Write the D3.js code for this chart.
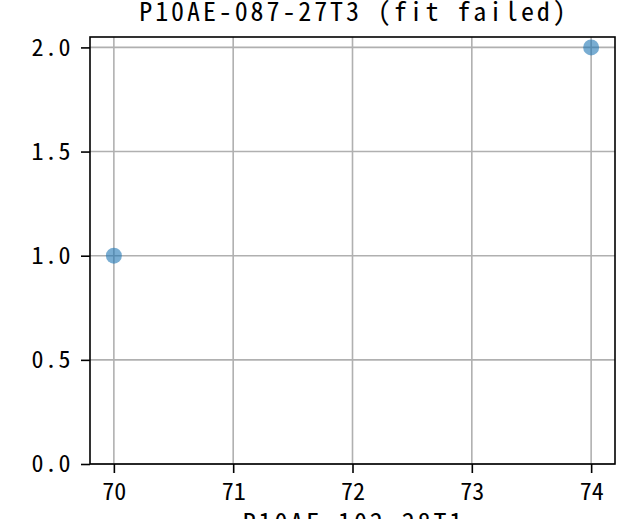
<!DOCTYPE html>
<html>
<head>
<meta charset="utf-8">
<script src="https://cdn.jsdelivr.net/npm/d3@7"></script>
<style>
  html, body { margin: 0; padding: 0; background: #ffffff; }
  svg { display: block; }
  text { font-family: "Noto Sans Mono CJK SC", "DejaVu Sans Mono", monospace; fill: #000; }
</style>
</head>
<body>
<svg id="chart" width="635" height="519"></svg>
<script>
// Scatter data
const xValues = [70, 74];
const yValues = [1, 2];
const xTicks = [70, 71, 72, 73, 74];
const yTicks = [0.0, 0.5, 1.0, 1.5, 2.0];
const titleText = "P10AE-087-27T3 (fit failed)";
const xLabelText = "P10AE-102-28T1";

const W = 635, H = 519;
const margin = { left: 90, right: 20, top: 37, bottom: 55 };
const innerW = W - margin.left - margin.right;
const innerH = H - margin.top - margin.bottom;

const svg = d3.select("#chart");
const g = svg.append("g").attr("transform", `translate(${margin.left},${margin.top})`);

const x = d3.scaleLinear().domain([69.8, 74.2]).range([0, innerW]);
const y = d3.scaleLinear().domain([0, 2.05]).range([innerH, 0]);

// grid
g.append("g").selectAll("line").data(xTicks).join("line")
  .attr("x1", d => x(d)).attr("x2", d => x(d))
  .attr("y1", 0).attr("y2", innerH)
  .attr("stroke", "#b0b0b0").attr("stroke-width", 1.6);
g.append("g").selectAll("line").data(yTicks).join("line")
  .attr("x1", 0).attr("x2", innerW)
  .attr("y1", d => y(d)).attr("y2", d => y(d))
  .attr("stroke", "#b0b0b0").attr("stroke-width", 1.6);

// points
g.append("g").selectAll("circle").data(xValues.map((v, i) => [v, yValues[i]])).join("circle")
  .attr("cx", d => x(d[0])).attr("cy", d => y(d[1]))
  .attr("r", 8)
  .attr("fill", "#1f77b4").attr("fill-opacity", 0.6);

// axes
const xAxis = d3.axisBottom(x).tickValues(xTicks).tickFormat(d3.format("d")).tickSize(9).tickPadding(10);
const yAxis = d3.axisLeft(y).tickValues(yTicks).tickFormat(d3.format(".1f")).tickSize(9).tickPadding(9);

const gx = g.append("g").attr("transform", `translate(0,${innerH})`).call(xAxis);
const gy = g.append("g").call(yAxis);
[gx, gy].forEach(a => {
  a.select(".domain").remove();
  a.selectAll(".tick line").attr("stroke", "#000").attr("stroke-width", 1.6);
  a.selectAll(".tick text").attr("font-size", 24).style("font-family", '"Noto Sans Mono CJK SC", "DejaVu Sans Mono", monospace');
});
gy.selectAll(".tick text").attr("letter-spacing", 1.5);

// frame
g.append("rect").attr("x", 0).attr("y", 0).attr("width", innerW).attr("height", innerH)
  .attr("fill", "none").attr("stroke", "#000").attr("stroke-width", 1.6);

// title and axis label
const spacing = 2.9;
svg.append("text").attr("x", margin.left + innerW / 2 + spacing / 2).attr("y", 21)
  .attr("text-anchor", "middle").attr("font-size", 26).attr("letter-spacing", spacing).text(titleText);
svg.append("text").attr("x", margin.left + innerW / 2 + spacing / 2).attr("y", 532)
  .attr("text-anchor", "middle").attr("font-size", 26).attr("letter-spacing", spacing).text(xLabelText);
</script>
</body>
</html>
